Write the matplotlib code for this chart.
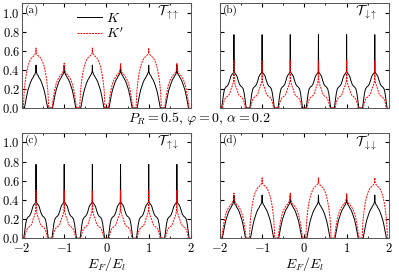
import numpy as np
import matplotlib
matplotlib.use("Agg")
from matplotlib import pyplot as plt
from matplotlib.ticker import MultipleLocator

plt.rcParams["font.family"] = ["cmr10", "DejaVu Serif"]
plt.rcParams["mathtext.fontset"] = "cm"
plt.rcParams["axes.formatter.use_mathtext"] = True

# peak positions (E_F / E_l)
centers = [-5 / 3, -1, -1 / 3, 1 / 3, 1, 5 / 3]

# half profiles: offset from the peak centre -> value
# panels (a)/(d)
off_K_par = [-0.275, -0.25, -0.22, -0.19, -0.16, -0.13, -0.10, -0.07, -0.05, -0.03, -0.015, -0.006, 0.0]
val_K_par = [0.0, 0.06, 0.13, 0.19, 0.23, 0.27, 0.30, 0.32, 0.34, 0.35, 0.37, 0.38, 0.45]

off_Kp_big = [-0.30, -0.28, -0.25, -0.22, -0.19, -0.16, -0.13, -0.10, -0.07, -0.05, -0.03, -0.015, -0.006, 0.0]
val_Kp_big = [0.0, 0.18, 0.30, 0.38, 0.44, 0.48, 0.51, 0.53, 0.54, 0.55, 0.56, 0.57, 0.58, 0.63]

off_Kp_small = [-0.29, -0.26, -0.23, -0.20, -0.17, -0.14, -0.11, -0.08, -0.05, -0.03, -0.015, -0.006, 0.0]
val_Kp_small = [0.0, 0.10, 0.18, 0.24, 0.28, 0.31, 0.33, 0.35, 0.36, 0.38, 0.40, 0.41, 0.47]

# panels (b)/(c)
off_K_flip = [-0.29, -0.27, -0.245, -0.22, -0.19, -0.16, -0.13, -0.10, -0.075, -0.05, -0.03, -0.015, -0.005, 0.0]
val_K_flip = [0.0, 0.07, 0.15, 0.20, 0.22, 0.23, 0.25, 0.29, 0.33, 0.35, 0.36, 0.37, 0.38, 0.77]

off_Kp_flip = [-0.27, -0.25, -0.22, -0.19, -0.16, -0.13, -0.10, -0.08, -0.06, -0.04, -0.02, -0.008, 0.0]
val_Kp_flip = [0.0, 0.05, 0.09, 0.11, 0.12, 0.13, 0.15, 0.18, 0.21, 0.23, 0.26, 0.28, 0.50]

# which K' bump is large in panel (a); panel (d) is the opposite
big_in_a = [True, False, True, False, True, False]


def mirror(off, val):
    off = np.asarray(off)
    val = np.asarray(val)
    return np.concatenate([off, -off[-2::-1]]), np.concatenate([val, val[-2::-1]])


def series(profiles):
    xs, ys = [], []
    for c, (off, val) in zip(centers, profiles):
        o, v = mirror(off, val)
        xs.append(c + o)
        ys.append(v)
    return np.concatenate(xs), np.concatenate(ys)


K_par = series([(off_K_par, val_K_par)] * 6)
Kp_a = series([(off_Kp_big, val_Kp_big) if b else (off_Kp_small, val_Kp_small) for b in big_in_a])
Kp_d = series([(off_Kp_small, val_Kp_small) if b else (off_Kp_big, val_Kp_big) for b in big_in_a])
K_flip = series([(off_K_flip, val_K_flip)] * 6)
Kp_flip = series([(off_Kp_flip, val_Kp_flip)] * 6)

panels = [
    ("(a)", r"$\mathcal{T}_{\uparrow\!\!\uparrow}$", K_par, Kp_a),
    ("(b)", r"$\mathcal{T}_{\downarrow\!\!\uparrow}$", K_flip, Kp_flip),
    ("(c)", r"$\mathcal{T}_{\uparrow\!\!\downarrow}$", K_flip, Kp_flip),
    ("(d)", r"$\mathcal{T}_{\downarrow\!\!\downarrow}$", K_par, Kp_d),
]

fig = plt.figure(figsize=(3.99, 2.72), dpi=100)
rects = [
    [0.055, 0.603, 0.4236, 0.385],
    [0.551, 0.603, 0.4236, 0.385],
    [0.055, 0.124, 0.4236, 0.388],
    [0.551, 0.124, 0.4236, 0.388],
]

for i, (rect, (tag, title, k, kp)) in enumerate(zip(rects, panels)):
    ax = fig.add_axes(rect)
    ax.plot(k[0], k[1], color="black", lw=0.7, label=r"$K$")
    ax.plot(kp[0], kp[1], color="red", lw=0.7, ls=(0, (2, 1)), label=r"$K'$")
    ax.set_xlim(-2, 2)
    ax.set_ylim(0, 1.1)
    ax.xaxis.set_major_locator(MultipleLocator(1))
    ax.xaxis.set_minor_locator(MultipleLocator(0.5))
    ax.yaxis.set_major_locator(MultipleLocator(0.2))
    ax.tick_params(which="both", direction="in", top=True, right=True, labelsize=9)
    ax.tick_params(axis="y", pad=1.5)
    ax.tick_params(axis="x", pad=2.5)
    ax.tick_params(which="major", length=3)
    ax.tick_params(which="minor", length=1.5)
    for sp in ax.spines.values():
        sp.set_color("#555555")
        sp.set_linewidth(0.7)
    if i % 2 == 1:
        ax.set_yticklabels([])
    if i < 2:
        ax.set_xticklabels([])
    else:
        ax.set_xlabel(r"$E_F/E_l$", fontsize=10, labelpad=0)
    ax.text(0.02, 0.93, tag, transform=ax.transAxes, fontsize=8, va="center")
    ax.text(0.80, 0.91, title, transform=ax.transAxes, fontsize=10, va="center")
    if i == 0:
        ax.legend(loc="upper left", bbox_to_anchor=(0.25, 1.04), frameon=False,
                  fontsize=10, handlelength=1.8, handletextpad=0.3, labelspacing=0.1)

fig.text(0.5, 0.565, r"$P_R=0.5,\,\varphi=0,\,\alpha=0.2$", ha="center", va="center", fontsize=10)

fig.savefig("out.png", dpi=100)
